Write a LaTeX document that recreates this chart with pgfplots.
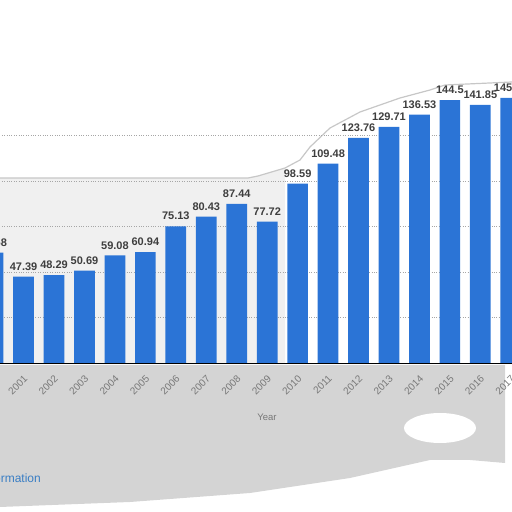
\documentclass[border=0pt]{standalone}
\usepackage{pgfplots}
\pgfplotsset{compat=1.18}
\usepackage{fontspec}
\setmainfont{Liberation Sans}
\definecolor{barblue}{RGB}{43,116,214}
\definecolor{lbl}{RGB}{62,62,62}
\definecolor{tickgray}{RGB}{120,120,120}
\definecolor{linkblue}{RGB}{58,126,196}
\begin{document}
\begin{tikzpicture}
\useasboundingbox (0pt,0pt) rectangle (512pt,512pt);
\clip (0pt,0pt) rectangle (512pt,512pt);
% background smears
\fill[black!6] (0pt,149pt) -- (0pt,334pt) -- (248pt,334pt) -- (258pt,336pt) -- (285pt,344pt) -- (285pt,149pt) -- cycle;
\draw[black!22, line width=1.2pt] (0pt,334pt) -- (248pt,334pt) -- (258pt,336pt) -- (285pt,344pt) -- (300pt,352pt) -- (310pt,365pt) -- (330pt,384pt) -- (360pt,400pt) -- (400pt,414pt) -- (430pt,422pt) -- (445pt,427pt) -- (512pt,430pt);
\fill[black!17] (0pt,147pt) -- (505pt,147pt) -- (505pt,49pt) -- (470pt,52pt) -- (430pt,52pt) -- (350pt,34pt) -- (250pt,19pt) -- (130pt,10pt) -- (0pt,5pt) -- cycle;
\fill[white] (440pt,84pt) ellipse [x radius=36pt, y radius=15pt];
\node[anchor=base east, text=linkblue, font=\fontsize{12}{14}\selectfont, inner sep=0pt] at (41pt,30pt) {Additional Information};
\node[text=tickgray, font=\fontsize{9.5}{11}\selectfont] at (267pt,95pt) {Year};
\begin{axis}[
  at={(-22.1pt,149pt)}, anchor=south west,
  scale only axis, width=548.1pt, height=291.2pt,
  xmin=1999.5, xmax=2017.5, ymin=0, ymax=160,
  ybar, bar width=20.7pt,
  axis x line*=bottom, axis y line*=left,
  x axis line style={black, line width=0.8pt},
  y axis line style={draw=none},
  tick style={draw=none}, major tick length=0pt,
  xtick={2000,2001,2002,2003,2004,2005,2006,2007,2008,2009,2010,2011,2012,2013,2014,2015,2016,2017},
  xticklabels={2000,2001,2002,2003,2004,2005,2006,2007,2008,2009,2010,2011,2012,2013,2014,2015,2016,2017},
  xticklabel style={font=\fontsize{10}{11}\selectfont, text=tickgray, xshift=3pt, yshift=-13pt, rotate=45, anchor=east, inner sep=1pt},
  ytick={25,50,75,100,125}, yticklabels={},
  ymajorgrids, grid style={dotted, black!35, line width=0.5pt},
  point meta=explicit symbolic,
  nodes near coords,
  nodes near coords style={font=\bfseries\fontsize{11}{12}\selectfont, text=lbl, anchor=south, inner sep=1pt, yshift=5pt},
]
\addplot[fill=barblue, draw=none] coordinates {
(2000,60.58) [60.58]
(2001,47.39) [47.39]
(2002,48.29) [48.29]
(2003,50.69) [50.69]
(2004,59.08) [59.08]
(2005,60.94) [60.94]
(2006,75.13) [75.13]
(2007,80.43) [80.43]
(2008,87.44) [87.44]
(2009,77.72) [77.72]
(2010,98.59) [98.59]
(2011,109.48) [109.48]
(2012,123.76) [123.76]
(2013,129.71) [129.71]
(2014,136.53) [136.53]
(2015,144.5) [144.5]
(2016,141.85) [141.85]
(2017,145.62) [145.62]
};
\end{axis}
\end{tikzpicture}
\end{document}
